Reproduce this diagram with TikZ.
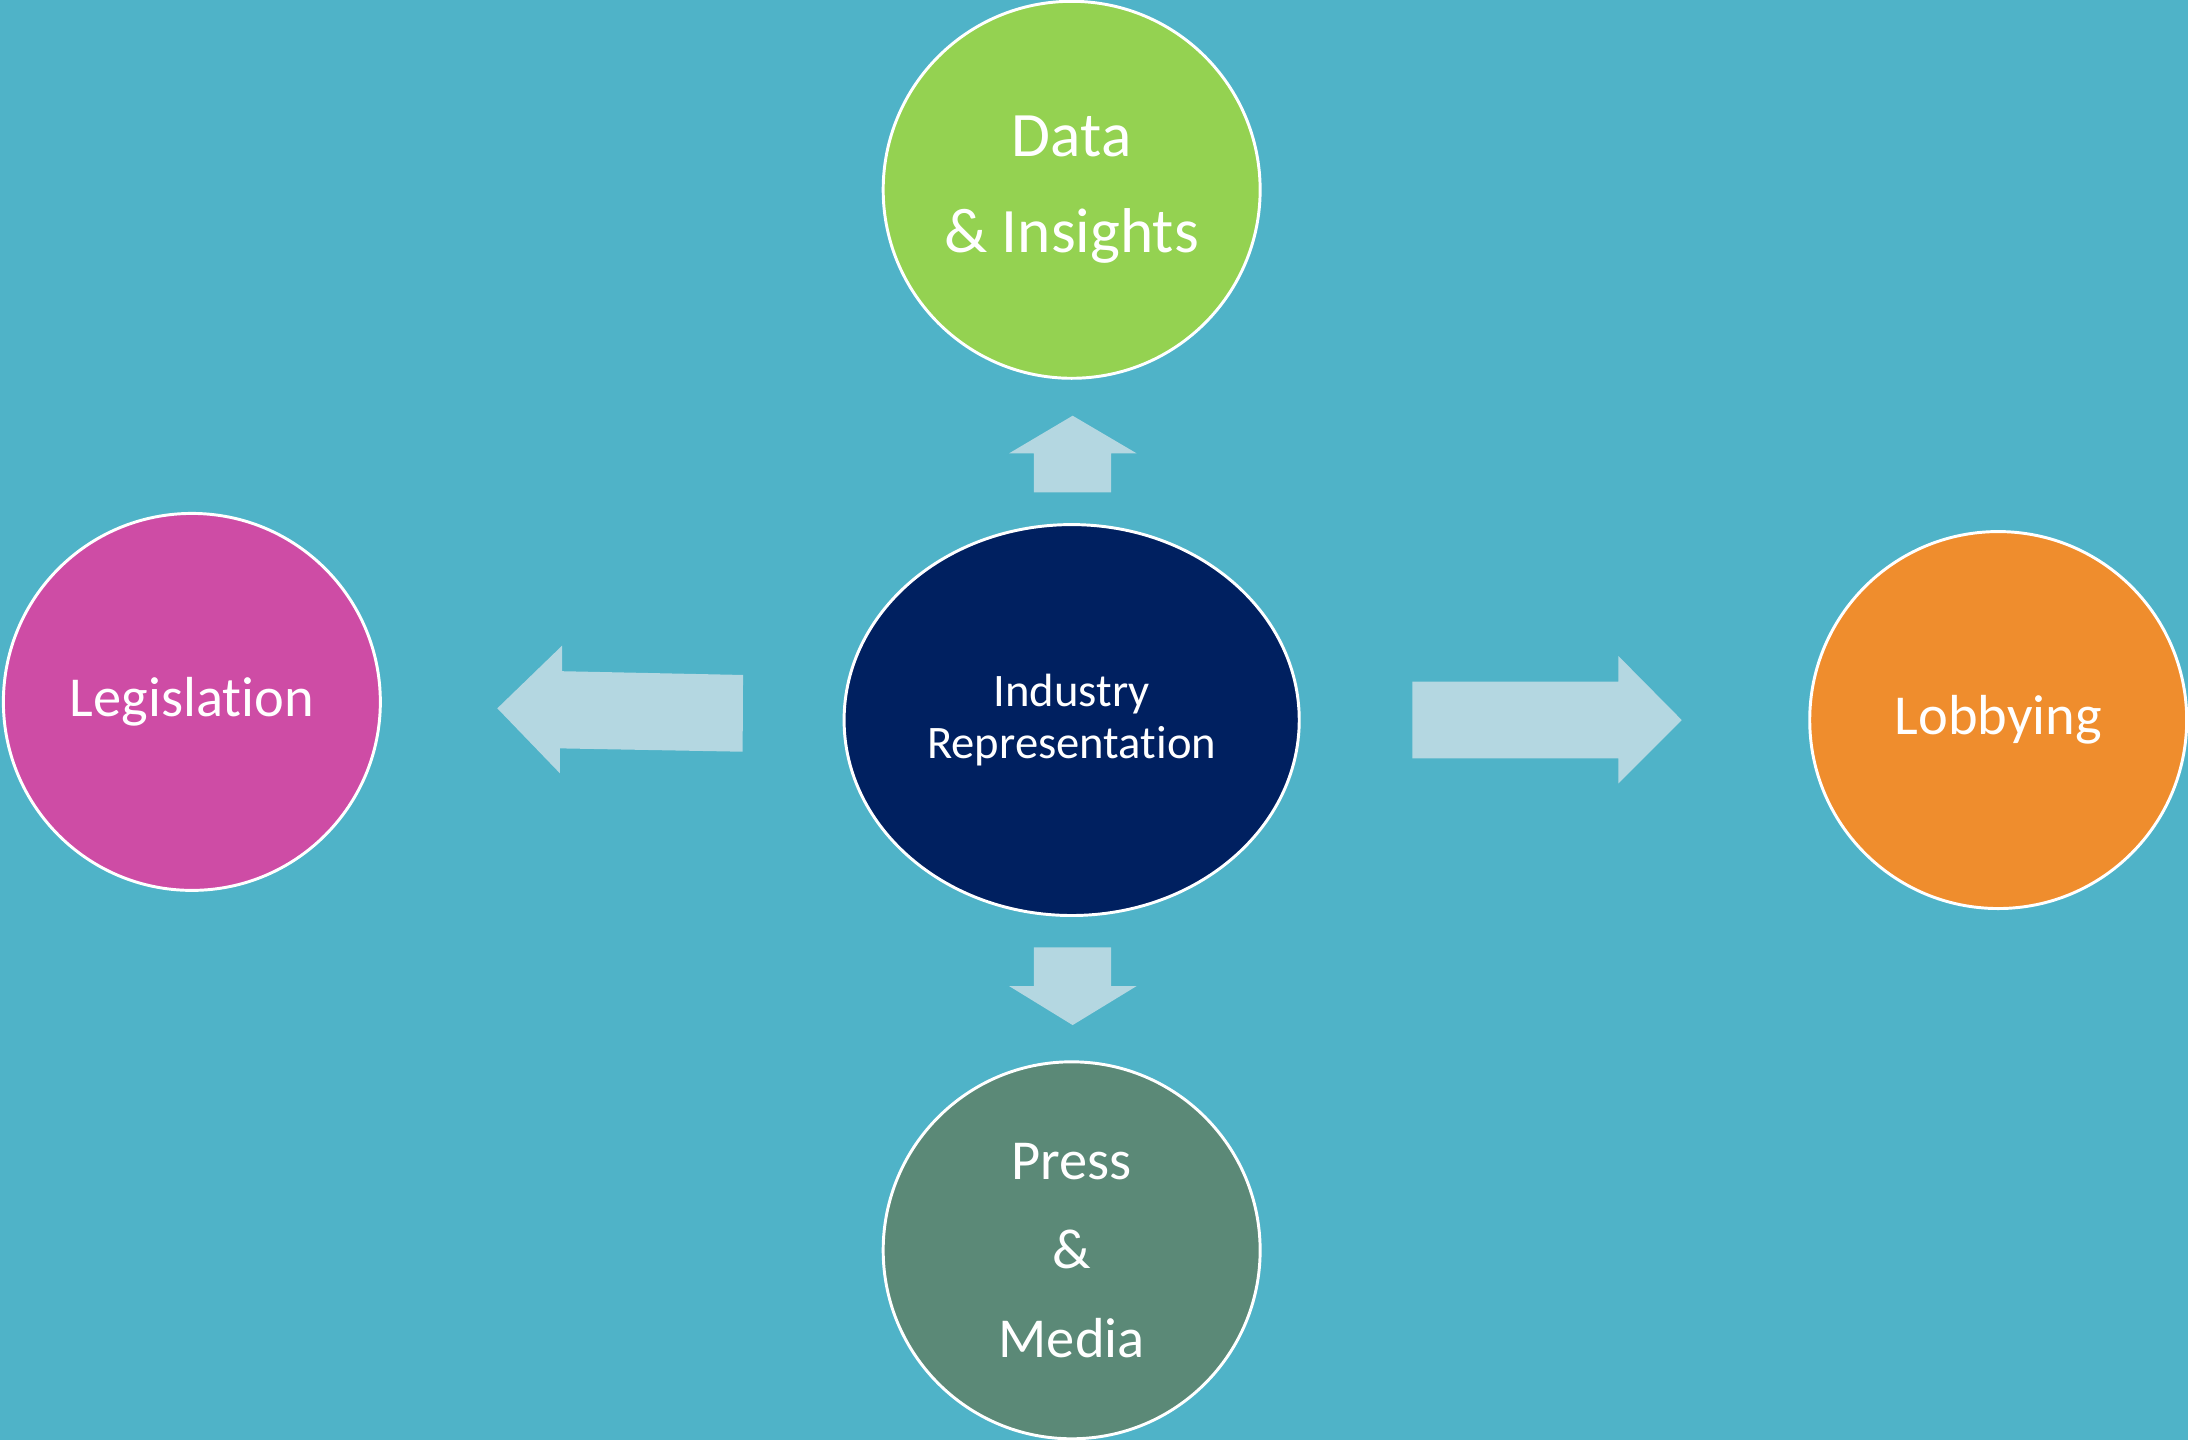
\documentclass[tikz,border=0pt]{standalone}
\usepackage{fontspec}
\setmainfont{Carlito}[Ligatures={NoCommon}]
\usetikzlibrary{shapes.geometric}
\definecolor{bgc}{HTML}{4FB3C8}
\definecolor{arrowc}{HTML}{B4D7E1}
\definecolor{greenc}{HTML}{94D251}
\definecolor{magc}{HTML}{CE4CA5}
\definecolor{orangec}{HTML}{EF8D2D}
\definecolor{pressc}{HTML}{5B8977}
\definecolor{navyc}{HTML}{002060}
\begin{document}
\begin{tikzpicture}[x=0.01cm,y=-0.01cm,
  bubble/.style={circle, draw=white, line width=0.6pt, minimum size=2.7cm,
    inner sep=0pt, text=white, align=center},
  bigtext/.style={font=\fontsize{12.9}{19.7}\selectfont},
  midtext/.style={font=\fontsize{11.5}{18.1}\selectfont},
  arrowshape/.style={fill=arrowc, draw=none}]
\fill[bgc] (0,0) rectangle (1568,1032);
\useasboundingbox (0,0) rectangle (1568,1032);

% arrows
\fill[arrowshape] (741,352.8) -- (741,324.9) -- (723.1,324.9) -- (768.7,297.9)
  -- (814.6,324.9) -- (796.2,324.9) -- (796.2,352.8) -- cycle;
\fill[arrowshape] (741,678.9) -- (741,706.6) -- (723.1,706.6) -- (768.7,734.6)
  -- (814.6,706.6) -- (796.2,706.6) -- (796.2,678.9) -- cycle;
\fill[arrowshape] (1012.1,488.5) -- (1159.8,488.5) -- (1159.8,470.1) -- (1205.2,516)
  -- (1159.8,561.4) -- (1159.8,543.4) -- (1012.1,543.4) -- cycle;
\fill[arrowshape] (532.5,483.7) -- (402.8,481) -- (402.8,462.7) -- (356.4,507.6)
  -- (401.3,554.2) -- (401.3,536.3) -- (532.2,538.7) -- cycle;

% bubbles
\node[bubble, bigtext, fill=greenc] (data) at (768,136) {Data\\\& Insights};
\node[bubble, midtext, fill=magc] (legis) at (137.5,503) {Legislation};
\node[bubble, midtext, fill=orangec] (lobby) at (1432,516) {Lobbying};
\node[bubble, midtext, fill=pressc] (press) at (768,896) {Press\\\&\\Media};
\node[ellipse, draw=white, line width=0.6pt, fill=navyc, text=white, align=center,
  minimum width=3.26cm, minimum height=2.8cm, inner sep=0pt,
  font=\fontsize{9.5}{10.6}\selectfont] (ind) at (768,516) {Industry\\Representation};
\end{tikzpicture}
\end{document}
